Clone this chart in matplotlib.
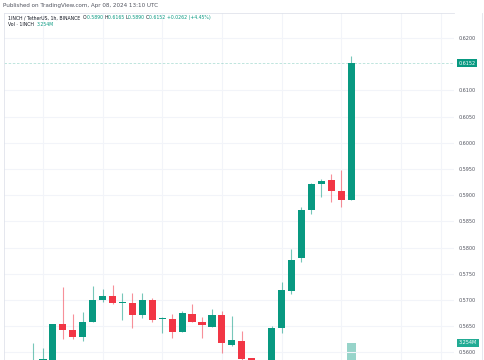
import matplotlib
matplotlib.use("Agg")
import matplotlib.pyplot as plt

# 1INCH / USDT 1h candles
opens = [0.5570, 0.5575, 0.5580, 0.5654, 0.5643, 0.5629, 0.5658, 0.5700, 0.5707,
         0.5694, 0.5694, 0.5671, 0.5700, 0.5663, 0.5664, 0.5639, 0.5673, 0.5658,
         0.5648, 0.5671, 0.5614, 0.5622, 0.5589, 0.5578, 0.5572, 0.5646, 0.5717,
         0.5780, 0.5872, 0.5921, 0.5929, 0.5908, 0.5890]
highs = [0.5618, 0.5608, 0.5654, 0.5725, 0.5673, 0.5677, 0.5727, 0.5721, 0.5728,
         0.5713, 0.5713, 0.5713, 0.5704, 0.5667, 0.5673, 0.5679, 0.5692, 0.5667,
         0.5683, 0.5679, 0.5669, 0.5641, 0.5590, 0.5583, 0.5650, 0.5734, 0.5797,
         0.5877, 0.5923, 0.5931, 0.5940, 0.5948, 0.6165]
lows = [0.5560, 0.5565, 0.5575, 0.5625, 0.5625, 0.5622, 0.5658, 0.5696, 0.5692,
        0.5662, 0.5646, 0.5665, 0.5658, 0.5637, 0.5627, 0.5639, 0.5658, 0.5627,
        0.5648, 0.5599, 0.5612, 0.5580, 0.5570, 0.5565, 0.5568, 0.5637, 0.5711,
        0.5772, 0.5864, 0.5896, 0.5887, 0.5877, 0.5890]
closes = [0.5582, 0.5587, 0.5654, 0.5643, 0.5629, 0.5658, 0.5700, 0.5707, 0.5694,
          0.5695, 0.5671, 0.5700, 0.5662, 0.5664, 0.5639, 0.5675, 0.5658, 0.5652,
          0.5671, 0.5618, 0.5623, 0.5587, 0.5578, 0.5572, 0.5646, 0.5719, 0.5776,
          0.5872, 0.5921, 0.5927, 0.5908, 0.5890, 0.6152]
vol_index = [32]
vol_values = [3.254]  # millions
price_ticks = [0.5600, 0.5650, 0.5700, 0.5750, 0.5800, 0.5850, 0.5900,
               0.5950, 0.6000, 0.6050, 0.6100, 0.6200]
last_price = 0.6152

up = "#089981"
down = "#f23645"
grid_c = "#f2f4f9"
txt = "#131722"

fig = plt.figure(figsize=(4.85, 3.6), dpi=100)
ax = fig.add_axes([4 / 485, 0, 450 / 485, 347 / 360])
ax.set_xlim(-2.92, 42.35)
ax.set_ylim(0.55853, 0.62477)

# volume overlay
vax = ax.twinx()
vax.set_ylim(0, 3.254 * 347 / 17)
vax.bar(vol_index, vol_values, width=0.9, color=up, alpha=0.42, linewidth=0)
vax.axis("off")
ax.set_zorder(vax.get_zorder() + 1)
ax.patch.set_visible(False)

for gx in [1, 7, 13, 19, 25, 31, 37, 41]:
    ax.axvline(gx, color=grid_c, lw=0.8, zorder=0)
for t in price_ticks:
    ax.axhline(t, color=grid_c, lw=0.8, zorder=0)

for i in range(len(opens)):
    o, h, l, c = opens[i], highs[i], lows[i], closes[i]
    col = up if c >= o else down
    ax.vlines(i, l, h, color=col, lw=0.8, alpha=0.55, zorder=2)
    ax.bar(i, max(abs(c - o), 0.00022), bottom=min(o, c), width=0.72,
           color=col, linewidth=0, zorder=3)

ax.axhline(last_price, color=up, lw=0.6, ls=(0, (3, 2)), alpha=0.3, zorder=1)

ax.yaxis.tick_right()
ax.set_yticks(price_ticks)
ax.set_yticklabels(["%.4f" % t for t in price_ticks])
ax.tick_params(axis="y", length=0, pad=3.6, labelsize=3.5, labelcolor="#50535e")
ax.set_xticks([])
for s in ["right", "bottom"]:
    ax.spines[s].set_visible(False)
for s in ["left", "top"]:
    ax.spines[s].set_color("#e0e3eb")
    ax.spines[s].set_linewidth(0.6)

ax.annotate("%.4f" % last_price, xy=(1, last_price), xycoords=("axes fraction", "data"),
            xytext=(3.3, 0), textcoords="offset points", ha="left", va="center",
            fontsize=3.5, color="white",
            bbox=dict(boxstyle="square,pad=0.35", fc=up, ec="none"))
vax.annotate("3.254M", xy=(1, 3.254), xycoords=("axes fraction", "data"),
             xytext=(3.3, 0), textcoords="offset points", ha="left", va="center",
             fontsize=3.5, color="white",
             bbox=dict(boxstyle="square,pad=0.35", fc="#22ab94", ec="none"))

fig.add_artist(plt.Line2D([482 / 485, 482 / 485], [0, 347 / 360],
                          transform=fig.transFigure, color="#e0e3eb", lw=0.6))

fig.text(3 / 485, 1 - 6 / 360, "Published on TradingView.com, Apr 08, 2024 13:10 UTC",
         fontsize=4.1, color="#50535e", va="center", ha="left")


def seg_line(x0, y0, parts, size=3.35):
    renderer = fig.canvas.get_renderer()
    x = x0
    for s, col in parts:
        t = fig.text(x / 485, 1 - y0 / 360, s, fontsize=size, color=col,
                     va="center", ha="left")
        w = t.get_window_extent(renderer).width
        x += w


seg_line(8, 17.5, [("1INCH / TetherUS, 1h, BINANCE  ", txt),
                   ("O", txt), ("0.5890 ", up), ("H", txt), ("0.6165 ", up),
                   ("L", txt), ("0.5890 ", up), ("C", txt), ("0.6152 ", up),
                   ("+0.0262 (+4.45%)", up)])
seg_line(8, 25, [("Vol \u00b7 1INCH  ", txt), ("3.254M", up)])

fig.savefig("out.png", dpi=100)
